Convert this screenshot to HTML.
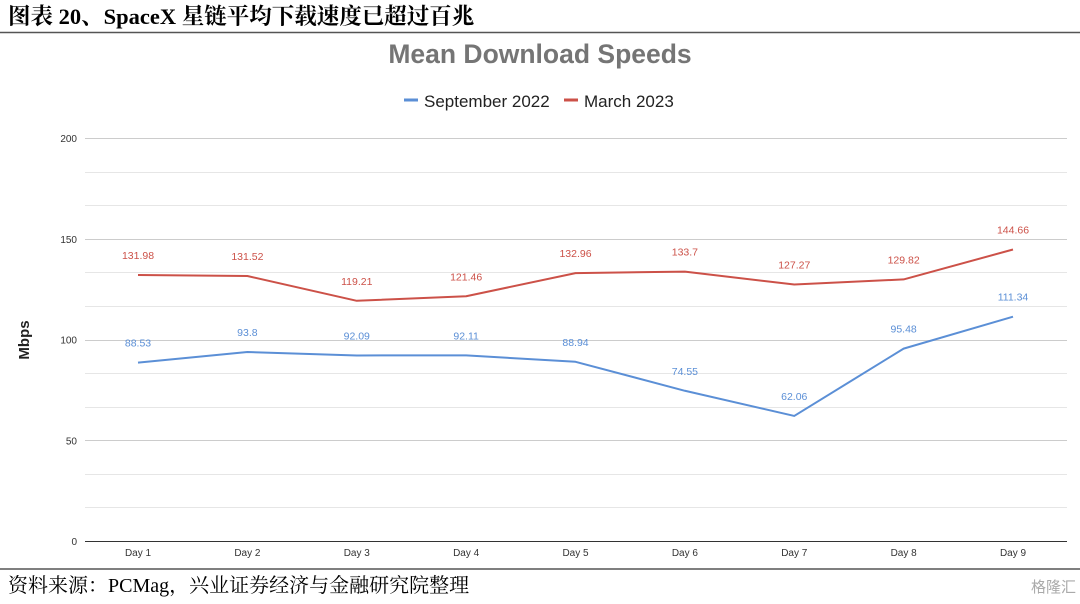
<!DOCTYPE html>
<html><head><meta charset="utf-8"><style>
html,body{margin:0;padding:0;background:#fff;width:1080px;height:604px;overflow:hidden}
svg{display:block}
</style></head><body>
<svg id="c" width="1080" height="604" xmlns="http://www.w3.org/2000/svg">
<text x="8" y="24" font-family="'Liberation Serif','Noto Serif CJK SC',serif" font-weight="bold" font-size="22.5" fill="#000">图表 20、SpaceX 星链平均下载速度已超过百兆</text>
<line x1="0" y1="32.5" x2="1080" y2="32.5" stroke="#555" stroke-width="1.5"/>
<text x="540" y="63" text-anchor="middle" font-family="'Liberation Sans',sans-serif" font-weight="bold" font-size="26.5" fill="#757575">Mean Download Speeds</text>
<g font-family="'Liberation Sans',sans-serif" font-size="17" fill="#222">
<line x1="404" y1="100" x2="418" y2="100" stroke="#5b8fd6" stroke-width="3"/>
<text x="424" y="107">September 2022</text>
<line x1="564" y1="100" x2="578" y2="100" stroke="#cc5148" stroke-width="3"/>
<text x="584" y="107">March 2023</text>
</g>
<text transform="translate(29,340) rotate(-90)" text-anchor="middle" font-family="'Liberation Sans',sans-serif" font-weight="bold" font-size="15" fill="#222">Mbps</text>
<g id="grid"></g><g id="marks"></g>
<line x1="0" y1="569" x2="1080" y2="569" stroke="#555" stroke-width="1.5"/>
<text x="8" y="592" font-family="'Liberation Serif','Noto Serif CJK SC',serif" font-size="20" fill="#000">资料来源：PCMag，兴业证券经济与金融研究院整理</text>
<text x="1076" y="592" text-anchor="end" font-family="'Liberation Sans','Noto Sans CJK SC',sans-serif" font-size="15" fill="#aaa">格隆汇</text>
</svg>
<script>
const categories=["Day 1","Day 2","Day 3","Day 4","Day 5","Day 6","Day 7","Day 8","Day 9"];
const sep2022=[88.53,93.8,92.09,92.11,88.94,74.55,62.06,95.48,111.34];
const mar2023=[131.98,131.52,119.21,121.46,132.96,133.7,127.27,129.82,144.66];
const yTicks=[0,50,100,150,200];
const NS="http://www.w3.org/2000/svg";
const y=v=>541-v*(541-138)/200;
const x=i=>138+i*(1013-138)/(categories.length-1);
function mk(t,a,p){const e=document.createElementNS(NS,t);for(const k in a)e.setAttribute(k,a[k]);p.appendChild(e);return e;}
const grid=document.getElementById('grid'),marks=document.getElementById('marks');
for(let v=0;v<=200;v+=50/3){const yy=Math.round(y(v))+0.5;
 const major=Math.abs(v-Math.round(v/50)*50)<0.01;
 const l=mk('line',{x1:85,x2:1067,y1:yy,y2:yy,stroke:v<0.01?'#333':(major?'#ccc':'#e6e6e6'),'stroke-width':1},grid);
 
 }
yTicks.forEach(v=>{const t=mk('text',{x:77,y:y(v)+4,'text-anchor':'end','font-family':'Liberation Sans,sans-serif','font-size':10,fill:'#333'},grid);t.textContent=v;
 
 });
categories.forEach((c,i)=>{const t=mk('text',{x:x(i),y:556,'text-anchor':'middle','font-family':'Liberation Sans,sans-serif','font-size':10,fill:'#333'},grid);t.textContent=c;
 
 });
function series(d,col,name){
 const p=mk('polyline',{points:d.map((v,i)=>x(i)+','+y(v)).join(' '),fill:'none',stroke:col,'stroke-width':2,'stroke-linejoin':'round'},marks);
 
 
 d.forEach((v,i)=>{const t=mk('text',{x:x(i),y:y(v)-16,'text-anchor':'middle','font-family':'Liberation Sans,sans-serif','font-size':10.5,fill:col},marks);t.textContent=v;
  
  });
}
series(sep2022,'#5b8fd6','september-2022');
series(mar2023,'#cc5148','march-2023');
</script>
</body></html>
